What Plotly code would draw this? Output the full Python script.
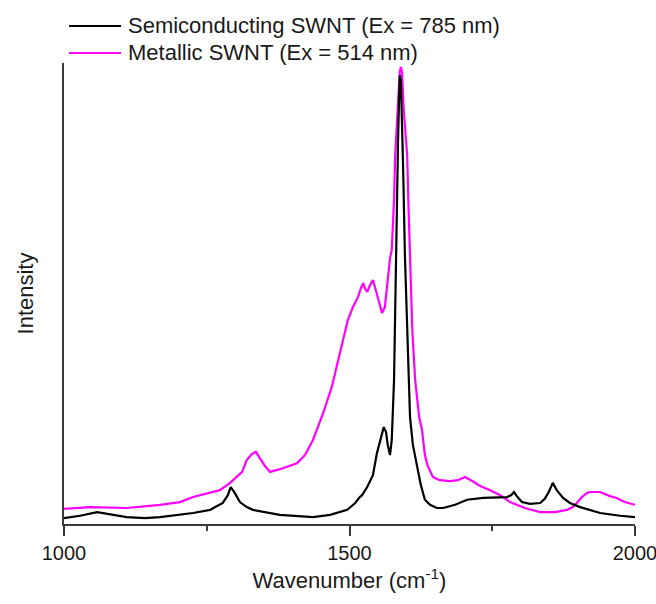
import plotly.graph_objects as go

# Semiconducting SWNT (Ex = 785 nm)
semi_wn = [1000, 1028, 1058, 1086, 1110, 1142, 1168, 1226, 1256, 1278, 1287, 1292, 1299, 1308,
           1320, 1331, 1378, 1436, 1466, 1496, 1510, 1518, 1522, 1531, 1541, 1548, 1555, 1560,
           1564, 1567, 1571, 1574, 1578, 1581, 1583, 1585, 1587, 1588, 1590, 1592, 1594, 1597,
           1601, 1606, 1611, 1618, 1625, 1632, 1641, 1653, 1664, 1685, 1706, 1734, 1764, 1776,
           1783, 1788, 1793, 1802, 1816, 1834, 1842, 1849, 1856, 1863, 1874, 1886, 1904, 1939,
           1974, 2000]
semi_int = [13, 18, 26, 20, 15, 13, 15, 24, 31, 46, 63, 81, 68, 48,
            37, 31, 20, 15, 20, 31, 46, 59, 63, 81, 107, 155, 188, 212,
            201, 173, 151, 184, 315, 589, 709, 840, 939, 982, 971, 884, 775, 589,
            446, 234, 173, 125, 85, 53, 42, 35, 35, 42, 53, 57, 59, 59,
            63, 70, 61, 48, 44, 46, 55, 70, 90, 74, 57, 46, 37, 24,
            18, 15]

# Metallic SWNT (Ex = 514 nm)
metal_wn = [1000, 1046, 1110, 1168, 1203, 1226, 1273, 1291, 1312, 1320, 1329, 1336, 1343, 1352,
            1361, 1378, 1408, 1422, 1436, 1448, 1454, 1469, 1480, 1489, 1497, 1506, 1515, 1520,
            1524, 1527, 1531, 1536, 1541, 1546, 1552, 1557, 1562, 1567, 1571, 1574, 1578, 1580,
            1585, 1588, 1590, 1592, 1595, 1601, 1603, 1606, 1610, 1615, 1622, 1627, 1632, 1637,
            1646, 1658, 1676, 1690, 1702, 1715, 1729, 1746, 1764, 1781, 1807, 1834, 1860, 1881,
            1891, 1898, 1907, 1916, 1921, 1939, 1956, 1968, 1982, 2000]
metal_int = [33, 37, 35, 42, 48, 59, 74, 90, 114, 140, 153, 158, 144, 127,
             114, 120, 133, 151, 184, 223, 243, 300, 359, 409, 446, 475, 497, 516,
             527, 516, 508, 523, 534, 512, 484, 462, 475, 534, 582, 600, 709, 807,
             906, 989, 1000, 989, 906, 807, 709, 589, 424, 315, 234, 206, 151, 127,
             103, 96, 94, 96, 103, 94, 83, 74, 63, 48, 35, 26, 26, 31,
             37, 46, 59, 68, 70, 70, 61, 57, 48, 42]

x_ticks = [1000, 1500, 2000]
x_minor = [1250, 1750]
names = ["Semiconducting SWNT (Ex = 785 nm)", "Metallic SWNT (Ex = 514 nm)"]
colors = ["#000000", "#ff00ff"]

fig = go.Figure()
fig.add_trace(go.Scatter(x=metal_wn, y=metal_int, mode="lines", name=names[1],
                         line=dict(color=colors[1], width=2.2), showlegend=False))
fig.add_trace(go.Scatter(x=semi_wn, y=semi_int, mode="lines", name=names[0],
                         line=dict(color=colors[0], width=2.2), showlegend=False))

FONT = "Liberation Sans, Arial, sans-serif"
axcol = "#3a3a3a"

fig.update_layout(
    width=656, height=604,
    margin=dict(l=64, r=21, t=63, b=80),
    paper_bgcolor="white", plot_bgcolor="white",
    font=dict(family=FONT, size=20, color="#1a1a1a"),
    xaxis=dict(range=[1000, 2000], tickvals=x_ticks, ticktext=[str(v) for v in x_ticks],
               ticks="outside", ticklen=10, ticklabeloverflow="allow", automargin=False,
               tickwidth=1.5, tickcolor=axcol, showline=True, linecolor=axcol, linewidth=2,
               showgrid=False, zeroline=False, tickfont=dict(size=20),
               minor=dict(tickvals=x_minor, ticks="outside", ticklen=5, tickwidth=1.5,
                          tickcolor=axcol, showgrid=False),
               title=dict(text="Wavenumber (cm<sup>-1</sup>)", font=dict(size=22), standoff=10)),
    yaxis=dict(range=[0, 1009], showticklabels=False, ticks="", showline=True, automargin=False,
               linecolor=axcol, linewidth=2, showgrid=False, zeroline=False,
               title=dict(text="Intensity", font=dict(size=22), standoff=22)),
)

# legend drawn as lines + text
rows = [1.0803, 1.0217]
for name, col, yy in zip(names, colors, rows):
    fig.add_shape(type="line", xref="paper", yref="paper", x0=0.0088, x1=0.0998,
                  y0=yy, y1=yy, line=dict(color=col, width=2))
    fig.add_annotation(xref="paper", yref="paper", x=0.1086, y=yy, text=name,
                       showarrow=False, xanchor="left", yanchor="middle",
                       font=dict(size=22, family=FONT, color="#1a1a1a"))

fig.write_html("out.html")
